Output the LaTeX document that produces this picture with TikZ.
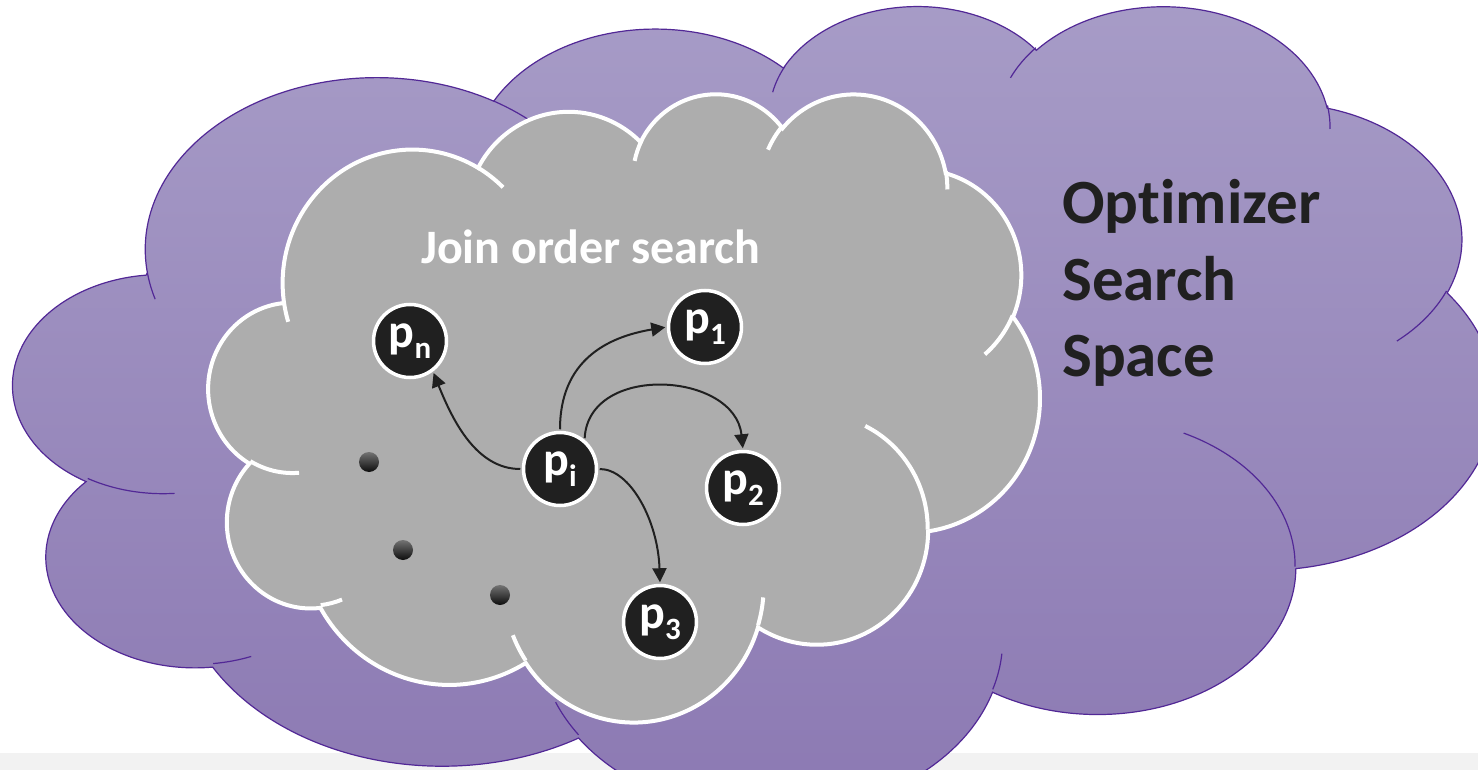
\documentclass[tikz,border=0pt]{standalone}
\usepackage{fontspec}
\setmainfont{Carlito}[Ligatures=NoCommon]
\usetikzlibrary{arrows.meta}

\definecolor{skyTop}{RGB}{167,156,199}
\definecolor{skyBottom}{RGB}{139,120,178}
\definecolor{skyEdge}{RGB}{82,40,150}
\definecolor{joinGray}{RGB}{173,173,173}
\definecolor{inkDark}{RGB}{32,32,32}
\definecolor{stripGray}{RGB}{242,242,242}

% cloud geometry: a 432 x 432 template, scaled by (\csx,\csy) and moved to (\cox,\coy)
\newcommand\setcloud[4]{\def\csx{#1}\def\csy{#2}\def\cox{#3}\def\coy{#4}}
\newcommand\cpt[2]{({\cox+\csx*(#1)},{\coy+\csy*(#2)})}
% elliptical arc from the current point: radii, start angle and sweep (angles measured on the ellipse)
\newcommand\carc[4]{arc[x radius={\csx*(#1)*1pt}, y radius={\csy*(#2)*1pt}, start angle={-ppang(#1,#2,#3)}, delta angle={-(ppang(#1,#2,(#3)+(#4))-ppang(#1,#2,#3)-360*round((ppang(#1,#2,(#3)+(#4))-ppang(#1,#2,#3)-(#4))/360))}]}

\newcommand\cloudrim{\cpt{39.00}{143.70}
 \carc{67.53}{91.90}{-190.4875}{123.7805}
 \carc{53.33}{72.67}{-144.1024}{89.9452}
 \carc{43.65}{59.45}{-145.8079}{99.7230}
 \carc{48.57}{65.95}{-130.9861}{117.2417}
 \carc{53.33}{72.73}{-78.7089}{109.0269}
 \carc{67.75}{92.20}{-46.2673}{130.2690}
 \carc{57.85}{78.67}{0.6250}{114.0333}
 \carc{67.52}{92.15}{22.4516}{115.1726}
 \carc{77.20}{105.43}{66.2426}{75.7110}
 \carc{43.60}{59.18}{-274.9421}{146.7356}
 \carc{43.45}{59.45}{-246.8285}{152.5189}
 -- cycle}

\newcommand\cloudfolds{\cpt{46.93}{261.77} \carc{43.45}{59.45}{86.7420}{26.4295}
 \cpt{69.28}{348.99} \carc{43.60}{59.18}{73.6105}{11.4475}
 \cpt{164.78}{390.90} \carc{67.52}{92.15}{137.6242}{14.0811}
 \cpt{288.27}{347.51} \carc{67.52}{92.15}{6.4533}{15.9984}
 \cpt{341.29}{229.54} \carc{57.85}{78.67}{-70.2924}{70.9174}
 \cpt{417.98}{153.54} \carc{53.33}{72.73}{30.3180}{27.7515}
 \cpt{383.24}{54.26} \carc{48.57}{65.95}{-13.7443}{14.8589}
 \cpt{290.78}{39.52} \carc{48.57}{65.95}{-149.1815}{18.1954}
 \cpt{221.41}{47.20} \carc{43.65}{59.45}{-163.4943}{17.6864}
 \cpt{140.00}{51.92} \carc{67.53}{91.90}{-66.7070}{12.3194}
 \cpt{41.27}{157.89} \carc{67.53}{91.90}{157.6544}{11.8582}}

\newcommand\subs[1]{\raisebox{-10.5pt}{\fontsize{31}{31}\selectfont #1}}

\begin{document}
\begin{tikzpicture}[x=1pt, y=-1pt,
  declare function={ppang(\pa,\pb,\pc)=atan2((\pa)*sin(\pc),(\pb)*cos(\pc));},
  pnode/.style={circle, fill=inkDark, draw=white, line width=3.5pt, minimum size=73pt,
    inner sep=0pt, text=white, font=\bfseries\fontsize{48}{48}\selectfont},
  dotball/.style={circle, minimum size=20pt, inner sep=0pt, top color=black!55, bottom color=black!95},
  flow/.style={draw=inkDark, line width=2pt, shorten >=1.5pt, shorten <=1.5pt,
    -{Triangle[length=14pt, width=14pt]}},
  heading/.style={anchor=base west, inner sep=0pt, text=inkDark,
    font=\bfseries\fontsize{63}{63}\selectfont},
  label/.style={anchor=base west, inner sep=0pt, text=white,
    font=\bfseries\fontsize{48}{48}\selectfont}]
\useasboundingbox (0,0) rectangle (1478,770);
\clip (0,0) rectangle (1478,770);
\fill[white] (0,0) rectangle (1478,770);
\fill[stripGray] (0,753) rectangle (1478,770);

% outer cloud
\setcloud{3.428}{1.8697}{13.68}{3.93}
\shadedraw[top color=skyTop, bottom color=skyBottom, draw=skyEdge, line width=1.2pt] \cloudrim;
\draw[skyEdge, line width=1.2pt] \cloudfolds;

% inner cloud
\setcloud{1.9232}{1.4537}{208.8}{92.25}
\path[fill=joinGray, draw=white, line width=4pt] \cloudrim;
\draw[white, line width=4pt] \cloudfolds;

% texts
\node[label] (join) at (421,263) {Join order search};
\node[heading] (opt1) at (1062,224) {Optimizer};
\node[heading] (opt2) at (1062,300) {Search};
\node[heading] (opt3) at (1062,376) {Space};

% plans
\node[pnode] (pn) at (410,341) {p\subs{n}};
\node[pnode] (p1) at (705,327) {p\subs{1}};
\node[pnode] (pi) at (560,469) {p\subs{i}};
\node[pnode] (p2) at (743,488) {p\subs{2}};
\node[pnode] (p3) at (660,622) {p\subs{3}};

\node[dotball] (d1) at (369,462) {};
\node[dotball] (d2) at (403,550) {};
\node[dotball] (d3) at (500,595) {};

% moves
\draw[flow] (pi.west) .. controls +(-45,0) and +(20,50) .. (pn.-53);
\draw[flow] (pi.north) .. controls +(0,-70) and +(-60,10) .. (p1.west);
\draw[flow] (pi.50) .. controls +(4,-77) and +(-8,-78) .. (p2.north);
\draw[flow] (pi.east) .. controls +(32,0) and +(-2,-63) .. (p3.north);
\end{tikzpicture}
\end{document}
